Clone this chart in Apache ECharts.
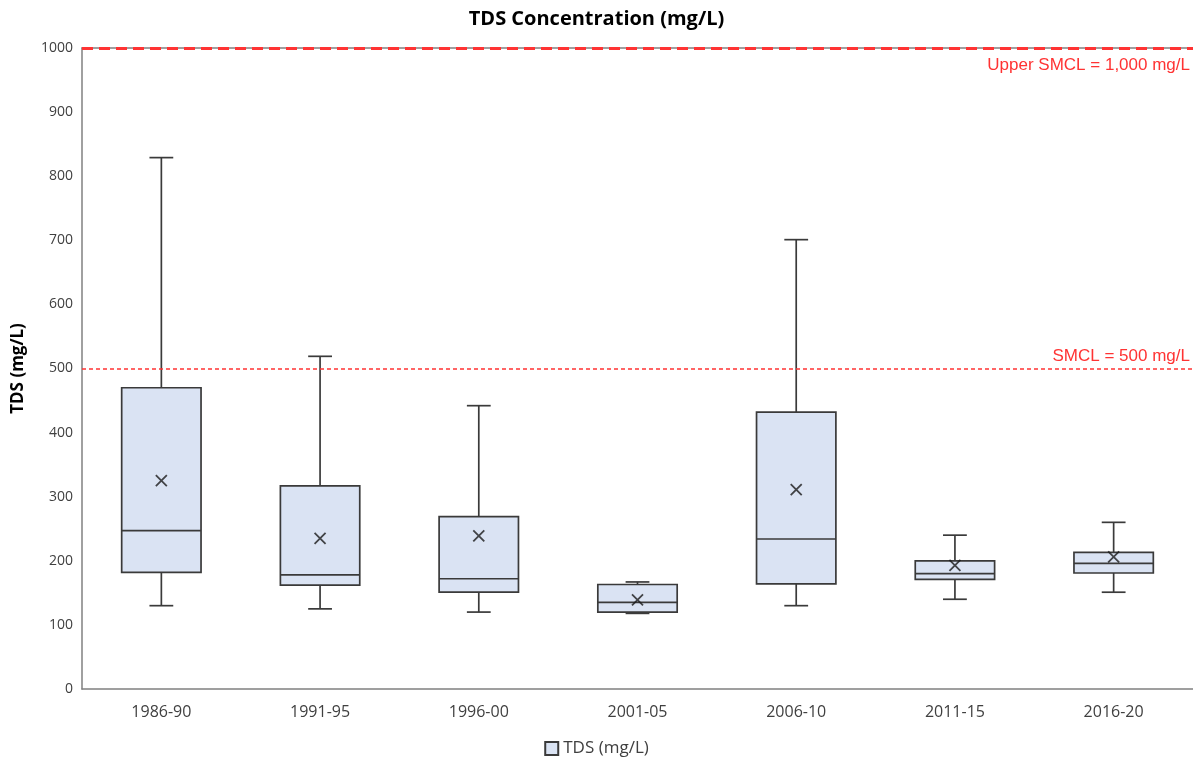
<!DOCTYPE html>
<html>
<head>
<meta charset="utf-8">
<script src="https://cdn.jsdelivr.net/npm/echarts@6/dist/echarts.min.js"></script>
<style>html,body{margin:0;padding:0;background:#fff}#c{width:1193px;height:765px}</style>
</head>
<body>
<div id="c"></div>
<script>
const categories = ['1986-90','1991-95','1996-00','2001-05','2006-10','2011-15','2016-20'];
const minValues    = [130, 125, 120, 118, 130, 140, 151];
const q1Values     = [182, 162, 151, 120, 164, 171, 181];
const medianValues = [247, 178, 172, 135, 234, 180, 196];
const q3Values     = [470, 317, 269, 163, 432, 200, 213];
const maxValues    = [829, 519, 442, 167, 701, 240, 260];
const meanValues   = [325, 235, 239, 139, 311, 193, 206];
const yTicks = {min: 0, max: 1000, interval: 100};
const smcl = 500, upperSmcl = 1000;

const boxData = categories.map((c, i) => [i, minValues[i], q1Values[i], medianValues[i], q3Values[i], maxValues[i]]);
const meanData = categories.map((c, i) => [i, meanValues[i]]);

const chart = echarts.init(document.getElementById('c'));
const lineCol = '#3a3a3a';
const red = '#FF3333';
chart.setOption({
  animation: false,
  title: {
    text: 'TDS Concentration (mg/L)',
    left: 'center',
    top: 4,
    textStyle: {fontFamily: 'Open Sans', fontSize: 20, fontWeight: 'bold', color: '#000'}
  },
  legend: {
    bottom: 3,
    left: 'center',
    data: [{name: 'TDS (mg/L)', icon: 'rect'}],
    itemWidth: 13, itemHeight: 13,
    itemGap: 6,
    textStyle: {fontFamily: 'Open Sans', fontSize: 17, color: '#404040'}
  },
  grid: {left: 82, right: 0, top: 48, bottom: 76, containLabel: false, outerBoundsMode: 'none'},
  xAxis: [{
    type: 'category',
    data: categories,
    axisTick: {show: false},
    axisLine: {lineStyle: {color: '#808080', width: 1.5}},
    axisLabel: {fontFamily: 'Open Sans', fontSize: 16, color: '#404040', margin: 15}
  }, {
    type: 'category',
    position: 'top',
    data: categories,
    axisTick: {show: false},
    axisLabel: {show: false},
    axisLine: {lineStyle: {color: '#808080', width: 1.5}}
  }],
  yAxis: {
    type: 'value',
    min: yTicks.min, max: yTicks.max, interval: yTicks.interval,
    name: 'TDS (mg/L)',
    nameLocation: 'middle',
    nameRotate: 90,
    nameGap: 55,
    nameTextStyle: {fontFamily: 'Open Sans', fontSize: 17, fontWeight: 'bold', color: '#000'},
    splitLine: {show: false},
    axisTick: {show: false},
    axisLine: {show: true, lineStyle: {color: '#808080', width: 1.5}},
    axisLabel: {fontFamily: 'Open Sans', fontSize: 14, color: '#404040', margin: 9,
      formatter: v => String(v)}
  },
  series: [
    {
      name: 'TDS (mg/L)',
      type: 'custom',
      itemStyle: {color: '#DAE3F3', borderColor: lineCol, borderWidth: 1},
      data: boxData,
      z: 3,
      renderItem: function (params, api) {
        const x = api.value(0);
        const pMin = api.coord([x, api.value(1)]);
        const pQ1 = api.coord([x, api.value(2)]);
        const pMed = api.coord([x, api.value(3)]);
        const pQ3 = api.coord([x, api.value(4)]);
        const pMax = api.coord([x, api.value(5)]);
        const bw = api.size([1, 0])[0] * 0.5;
        const cap = bw * 0.3;
        const cx = pMed[0];
        const st = {stroke: lineCol, lineWidth: 1.7, fill: null};
        return {
          type: 'group',
          children: [
            {type: 'line', shape: {x1: cx, y1: pMax[1], x2: cx, y2: pQ3[1]}, style: st},
            {type: 'line', shape: {x1: cx, y1: pQ1[1], x2: cx, y2: pMin[1]}, style: st},
            {type: 'line', shape: {x1: cx - cap / 2, y1: pMax[1], x2: cx + cap / 2, y2: pMax[1]}, style: st},
            {type: 'line', shape: {x1: cx - cap / 2, y1: pMin[1], x2: cx + cap / 2, y2: pMin[1]}, style: st},
            {type: 'rect', shape: {x: cx - bw / 2, y: pQ3[1], width: bw, height: pQ1[1] - pQ3[1]},
              style: {fill: '#DAE3F3', stroke: lineCol, lineWidth: 1.7}},
            {type: 'line', shape: {x1: cx - bw / 2, y1: pMed[1], x2: cx + bw / 2, y2: pMed[1]}, style: st}
          ]
        };
      },
      markLine: {
        silent: true,
        symbol: 'none',
        z: 10,
        data: [
          {yAxis: upperSmcl, lineStyle: {color: red, type: [11, 6], width: 3},
            label: {show: true, position: 'insideEndBottom', formatter: 'Upper SMCL = 1,000 mg/L',
              fontFamily: 'Liberation Sans', fontSize: 17, color: red, distance: [3, 9]}},
          {yAxis: smcl, lineStyle: {color: red, type: [4, 3], width: 1.6},
            label: {show: true, position: 'insideEndTop', formatter: 'SMCL = 500 mg/L',
              fontFamily: 'Liberation Sans', fontSize: 17, color: red, distance: [3, 4]}}
        ]
      }
    },
    {
      name: 'mean',
      type: 'scatter',
      data: meanData,
      symbol: 'path://M0,0L10,10M10,0L0,10',
      symbolSize: 11,
      itemStyle: {color: 'none', borderColor: '#1a1a1a', borderWidth: 1.8},
      z: 5
    }
  ]
});
</script>
</body>
</html>
